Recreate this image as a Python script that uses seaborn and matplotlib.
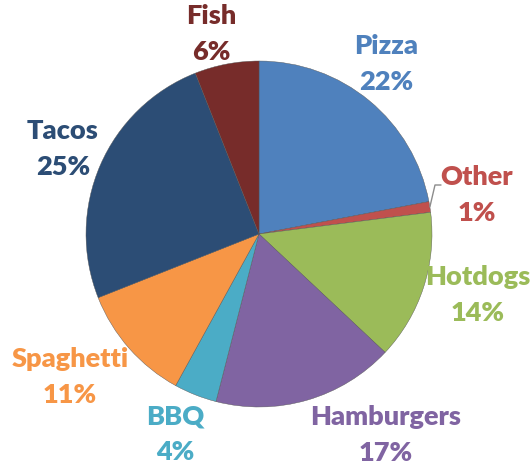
import numpy as np
import matplotlib.pyplot as plt
import seaborn as sns

# dados
categorias = ['Pizza', 'Other', 'Hotdogs', 'Hamburgers', 'BBQ', 'Spaghetti', 'Tacos', 'Fish']
valores = [22, 1, 14, 17, 4, 11, 25, 6]
cores = ['#4F81BD', '#C0504D', '#9BBB59', '#8064A2', '#4BACC6', '#F79646', '#2C4D75', '#772C2A']

# posicoes dos rotulos (pixels, origem no topo)
pos_rotulos = [(386, 64), (477, 195), (478, 295), (386, 435), (175, 434), (70, 377), (63, 149), (211, 34)]

sns.set_style("white")
plt.rcParams['font.family'] = ['Lato', 'DejaVu Sans']

W, H = 532, 467
fig = plt.figure(figsize=(W / 100, H / 100), dpi=100)
ax = fig.add_axes([0, 0, 1, 1])

centro = (259, H - 234)
raio = 173
wedges, _ = ax.pie(valores, colors=cores, startangle=90, counterclock=False,
                   center=centro, radius=raio, frame=True,
                   wedgeprops=dict(edgecolor='#555555', linewidth=0.3))
ax.set_xlim(0, W)
ax.set_ylim(0, H)
ax.set_aspect('equal')
ax.axis('off')

for cat, val, cor, (px, py) in zip(categorias, valores, cores, pos_rotulos):
    ax.text(px, H - py, f'{cat}\n{val}%', color=cor, fontsize=19.5, fontweight='heavy',
            ha='center', va='center', linespacing=1.6)

# linha guia para "Other"
w = wedges[1]
ang = np.deg2rad((w.theta1 + w.theta2) / 2)
x0 = centro[0] + raio * np.cos(ang)
y0 = centro[1] + raio * np.sin(ang)
ax.plot([x0, 435, 441], [y0, H - 185, H - 185], color='#8C8C8C', lw=1)

fig.savefig('out.png', dpi=100)
